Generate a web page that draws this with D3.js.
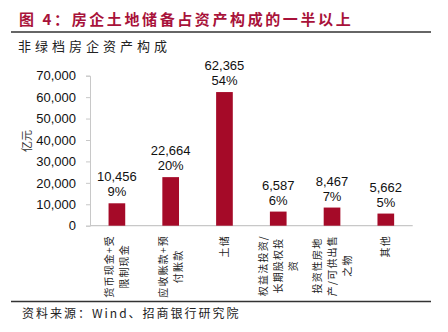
<!DOCTYPE html>
<html><head><meta charset="utf-8">
<script src="https://cdn.jsdelivr.net/npm/d3@7"></script>
<style>
body{margin:0;background:#fff;}
svg{display:block;font-family:"Liberation Sans",Arial,sans-serif;}
.cjk{font-family:"Noto Sans CJK SC",sans-serif;}
</style></head>
<body>
<svg id="c" width="448" height="332"></svg>
<script>
const title = "图 4：房企土地储备占资产构成的一半以上";
const subtitle = "非绿档房企资产构成";
const source = "资料来源：Wind、招商银行研究院";
const yTitle = "亿元";
const categories = [
  ["货币现金+受","限制现金"],
  ["应收账款+预","付账款"],
  ["土储"],
  ["权益法投资/","长期股权投","资"],
  ["投资性房地","产/可供出售","之物"],
  ["其他"]
];
const values = [10456, 22664, 62365, 6587, 8467, 5662];
const shares = ["9%", "20%", "54%", "6%", "7%", "5%"];
const yTicks = [0, 10000, 20000, 30000, 40000, 50000, 60000, 70000];

const svg = d3.select("#c");
const red = "#A50A28";

svg.append("text").attr("class","cjk").attr("x",19).attr("y",25)
  .attr("font-size",15).attr("font-weight","bold").attr("fill","#A8123A")
  .attr("letter-spacing",2.6).text(title);
svg.append("line").attr("x1",11).attr("x2",431).attr("y1",32).attr("y2",32)
  .attr("stroke","#333").attr("stroke-width",1.3);
svg.append("text").attr("class","cjk").attr("x",18).attr("y",51)
  .attr("font-size",13).attr("fill","#222").attr("letter-spacing",4).text(subtitle);

const x = d3.scaleBand().domain(d3.range(categories.length)).range([90, 412.7]).paddingInner(0.69).paddingOuter(0.345);
const y = d3.scaleLinear().domain([0, 70000]).range([225.7, 75.7]);

// y axis
const ya = svg.append("g").attr("transform","translate(90,0)")
  .call(d3.axisLeft(y).tickValues(yTicks).tickSize(4).tickPadding(10).tickFormat(d3.format(",")));
ya.select(".domain").attr("stroke","#c8c8c8");
ya.selectAll(".tick line").attr("stroke","#c8c8c8");
ya.selectAll(".tick text").attr("font-size",13).attr("fill","#111")
  .attr("font-family","'Liberation Sans',Arial,sans-serif");

// x axis line
svg.append("line").attr("x1",90).attr("x2",412.7).attr("y1",y(0)).attr("y2",y(0))
  .attr("stroke","#c8c8c8").attr("stroke-width",1.2);

svg.append("text").attr("class","cjk").attr("transform",`translate(31,141) rotate(-90)`)
  .attr("text-anchor","middle").attr("font-size",11).attr("fill","#333").text(yTitle);

// bars
svg.selectAll("rect.bar").data(values).join("rect").attr("class","bar")
  .attr("x",(d,i)=>x(i)).attr("width",x.bandwidth())
  .attr("y",d=>y(d)).attr("height",d=>y(0)-y(d)).attr("fill",red);

// labels
const fmt = d3.format(",");
values.forEach((v,i)=>{
  const cx = x(i)+x.bandwidth()/2;
  const t = svg.append("text").attr("text-anchor","middle").attr("font-size",13).attr("fill","#111");
  t.append("tspan").attr("x",cx).attr("y",y(v)-22).text(fmt(v));
  t.append("tspan").attr("x",cx).attr("y",y(v)-7).text(shares[i]);
});

// category labels rotated
categories.forEach((lines,i)=>{
  const cx = x(i)+x.bandwidth()/2;
  const g = svg.append("g");
  const t = g.append("text").attr("class","cjk").attr("text-anchor","middle")
    .attr("font-size",10).attr("letter-spacing",1.2).attr("fill","#222");
  const lh = 15;
  const n = lines.length;
  lines.forEach((s,k)=>{
    t.append("tspan").attr("x",0).attr("y",(k-(n-1)/2)*lh + 3.5).text(s);
  });
  let L = 0;
  t.selectAll("tspan").each(function(){ L = Math.max(L, this.getComputedTextLength()); });
  g.attr("transform",`translate(${cx},${235 + L/2}) rotate(-90)`);
});

svg.append("line").attr("x1",11).attr("x2",431).attr("y1",301.5).attr("y2",301.5)
  .attr("stroke","#333").attr("stroke-width",1.3);
svg.append("text").attr("class","cjk").attr("x",22).attr("y",318)
  .attr("font-size",12).attr("fill","#222").attr("letter-spacing",2).text(source);
</script>
</body></html>
